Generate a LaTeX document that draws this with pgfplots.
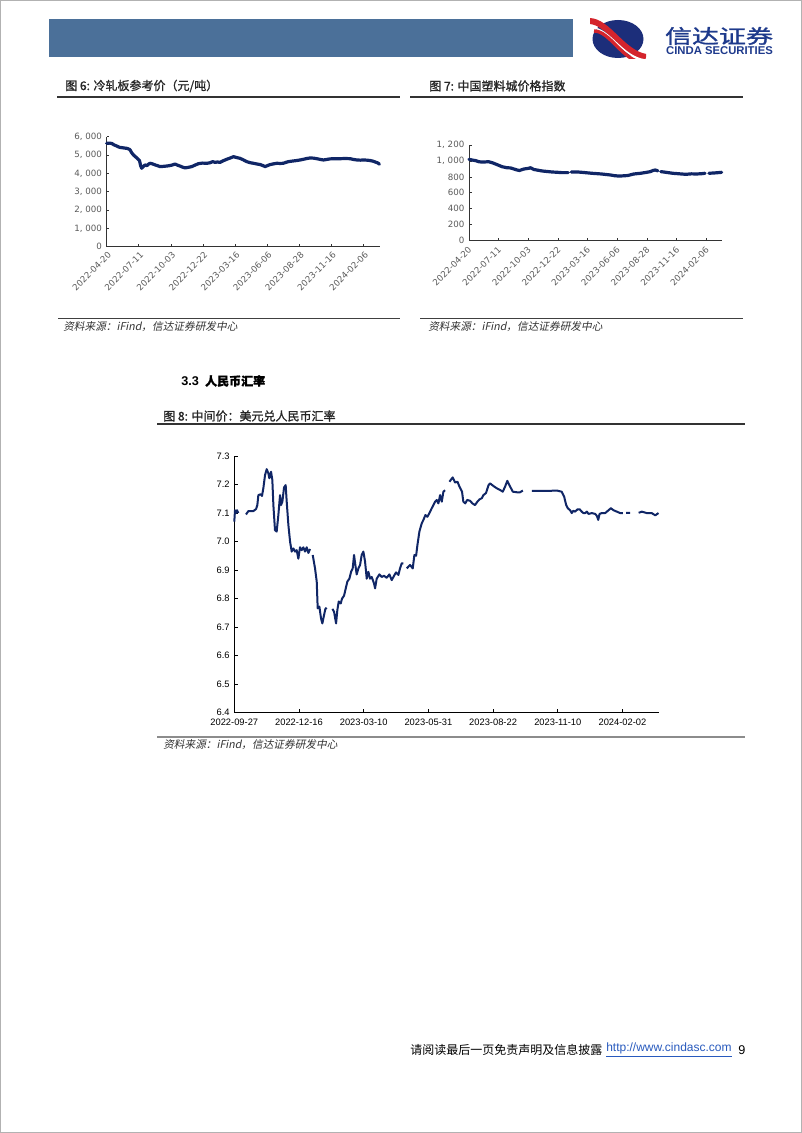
\documentclass[border=0pt]{standalone}
\usepackage{fontspec}
\setmainfont{Liberation Sans}
\newfontfamily\cjk{Noto Sans CJK SC}
\newfontfamily\cjkb{Noto Sans CJK SC}[FakeBold=1.2]
\newfontfamily\cjkit{Noto Sans CJK SC}[FakeSlant=0.2]
\newfontfamily\dejavu{DejaVu Sans}
\usepackage{graphicx}
\usepackage{pgfplots}
\pgfplotsset{compat=1.18}
\usepackage{pgfplotstable}

\definecolor{navy}{RGB}{16,38,102}
\definecolor{hdrblue}{RGB}{75,112,153}
\definecolor{logonavy}{RGB}{28,46,122}
\definecolor{logotext}{RGB}{30,58,140}
\definecolor{logored}{RGB}{212,36,44}
\definecolor{tickgray}{RGB}{90,90,90}
\definecolor{urlblue}{RGB}{40,90,190}

% Fig 6: cold-rolled sheet price (x in tick units, 1 unit = one labelled interval)
\pgfplotstableread{
x y
0.00 5640
0.08 5650
0.16 5630
0.22 5560
0.30 5500
0.40 5420
0.48 5400
0.56 5380
0.64 5360
0.72 5300
0.78 5120
0.84 4990
0.90 4900
0.96 4800
1.02 4700
1.06 4400
1.09 4280
1.13 4350
1.19 4460
1.25 4420
1.30 4500
1.35 4550
1.42 4520
1.51 4460
1.58 4420
1.66 4370
1.75 4380
1.87 4400
1.95 4420
2.05 4460
2.13 4510
2.20 4450
2.28 4400
2.36 4340
2.44 4300
2.55 4330
2.65 4370
2.75 4450
2.86 4530
2.98 4560
3.12 4550
3.22 4580
3.30 4640
3.37 4600
3.45 4620
3.53 4600
3.62 4680
3.74 4770
3.85 4840
3.95 4910
4.05 4860
4.15 4820
4.25 4740
4.36 4640
4.47 4580
4.57 4550
4.68 4510
4.78 4480
4.87 4420
4.93 4370
5.00 4420
5.09 4480
5.20 4520
5.30 4550
5.40 4540
5.50 4550
5.58 4600
5.66 4640
5.78 4670
5.92 4700
6.02 4730
6.13 4770
6.23 4810
6.33 4840
6.44 4830
6.54 4800
6.65 4760
6.75 4730
6.85 4760
6.96 4790
7.10 4800
7.27 4800
7.42 4810
7.58 4800
7.68 4760
7.79 4730
7.90 4720
8.00 4730
8.10 4720
8.20 4700
8.30 4660
8.36 4620
8.44 4570
8.49 4500
}\dataA

% Fig 7: China plastics city price index
\pgfplotstableread{
x y
0.00 1020
0.12 1010
0.22 1004
0.33 990
0.45 985
0.66 990
0.80 975
0.89 962
1.00 945
1.11 928
1.27 915
1.40 912
1.62 886
1.70 880
1.84 898
2.02 908
2.07 915
2.18 893
2.46 874
2.80 861
2.95 858
3.13 853
3.34 853
3.39 nan
3.44 861
3.70 860
3.80 857
4.14 845
4.47 836
4.76 824
4.90 815
5.02 811
5.15 812
5.35 817
5.55 836
5.78 845
5.95 855
6.10 865
6.20 880
6.27 886
6.36 876
6.41 nan
6.46 866
6.62 858
6.86 845
7.10 838
7.30 832
7.50 838
7.66 836
7.84 840
7.95 845
8.01 nan
8.08 845
8.30 850
8.51 857
}\dataB

% Fig 8: USD/CNY central parity
\pgfplotstableread{
x y
0.000 7.07
0.011 7.11
0.026 7.10
0.042 7.11
0.062 7.10
0.120 nan
0.181 7.095
0.217 7.107
0.294 7.107
0.336 7.114
0.356 7.128
0.372 7.163
0.408 7.166
0.428 7.160
0.449 7.187
0.475 7.233
0.501 7.254
0.526 7.240
0.542 7.222
0.568 7.245
0.588 7.216
0.604 7.128
0.629 7.040
0.655 7.035
0.681 7.093
0.707 7.163
0.722 7.128
0.743 7.140
0.769 7.190
0.794 7.198
0.810 7.140
0.836 7.058
0.862 7.000
0.887 6.965
0.913 6.976
0.939 6.965
0.964 6.970
0.990 6.940
1.016 6.980
1.042 6.970
1.067 6.980
1.093 6.965
1.119 6.980
1.145 6.960
1.171 6.974
1.190 nan
1.212 6.953
1.248 6.906
1.274 6.860
1.289 6.766
1.315 6.772
1.341 6.730
1.361 6.713
1.387 6.742
1.408 6.764
1.428 6.768
1.470 nan
1.516 6.764
1.542 6.754
1.573 6.713
1.593 6.760
1.614 6.790
1.645 6.783
1.665 6.800
1.696 6.810
1.727 6.840
1.748 6.860
1.779 6.870
1.805 6.894
1.830 6.906
1.851 6.953
1.871 6.918
1.892 6.885
1.918 6.906
1.944 6.918
1.969 6.953
1.995 6.965
2.021 6.930
2.047 6.870
2.073 6.894
2.098 6.870
2.124 6.876
2.160 6.853
2.176 6.836
2.201 6.870
2.243 6.885
2.279 6.876
2.315 6.880
2.356 6.873
2.397 6.885
2.433 6.865
2.469 6.880
2.500 6.892
2.536 6.883
2.562 6.906
2.588 6.924
2.614 6.924
2.640 nan
2.665 6.906
2.717 6.918
2.758 6.906
2.784 6.953
2.810 6.950
2.830 6.987
2.861 7.035
2.897 7.064
2.923 7.076
2.954 7.093
2.985 7.087
3.016 7.100
3.052 7.117
3.078 7.128
3.104 7.140
3.129 7.146
3.155 7.134
3.181 7.163
3.207 7.140
3.232 7.175
3.258 7.180
3.290 nan
3.325 7.210
3.376 7.225
3.413 7.207
3.450 7.210
3.480 7.193
3.520 7.175
3.540 7.140
3.570 7.134
3.600 7.146
3.645 7.143
3.680 7.134
3.720 7.128
3.758 7.140
3.790 7.148
3.825 7.152
3.850 7.163
3.890 7.170
3.930 7.198
3.954 7.204
4.005 7.195
4.057 7.187
4.108 7.181
4.150 7.175
4.186 7.193
4.220 7.213
4.263 7.193
4.305 7.175
4.366 7.173
4.418 7.173
4.460 7.179
4.530 nan
4.598 7.178
4.727 7.178
4.880 7.178
4.985 7.179
5.060 7.175
5.098 7.158
5.130 7.128
5.155 7.117
5.190 7.110
5.216 7.100
5.240 7.108
5.268 7.105
5.305 7.113
5.340 7.113
5.370 7.105
5.397 7.100
5.423 7.100
5.450 7.105
5.475 7.097
5.527 7.100
5.580 7.097
5.604 7.090
5.625 7.076
5.646 7.097
5.680 7.100
5.733 7.100
5.785 7.110
5.820 7.117
5.861 7.110
5.913 7.105
5.965 7.100
6.006 7.100
6.030 nan
6.057 7.101
6.120 7.101
6.180 nan
6.250 7.101
6.300 7.105
6.376 7.100
6.453 7.100
6.506 7.092
6.557 7.100
}\dataC

\newcommand{\fs}[1]{\fontsize{#1}{#1}\selectfont}

\begin{document}
\begin{tikzpicture}[x=0.75pt,y=0.75pt]
\path[use as bounding box] (0,0) rectangle (802,1133);
\fill[white] (0,0) rectangle (802,1133);
\draw[gray!60, line width=0.9pt] (0.6,0.6) rectangle (801.4,1132.4);

% ---------- header ----------
\fill[hdrblue] (49,1076) rectangle (573,1114);
\fill[logonavy] (618,1094) ellipse [x radius=25.5, y radius=19];
\begin{scope}
\clip (590,1114) rectangle (646,1074);
\draw[logored, line width=4.5pt] (589,1112) .. controls (608,1112) and (622,1080) .. (646,1076);
\draw[white, line width=1.2pt] (592,1105) .. controls (609,1105) and (622,1076) .. (645,1073);
\draw[logored, line width=2.5pt] (594,1102) .. controls (610,1102) and (622,1073) .. (643,1070);
\end{scope}
\node[anchor=center, text=logotext, inner sep=0] at (719,1097)
  {\resizebox*{81pt}{13.5pt}{\cjkb 信达证券}};
\node[anchor=center, text=logotext, inner sep=0] at (719.5,1082)
  {\resizebox*{80pt}{6pt}{\bfseries CINDA SECURITIES}};

% ---------- figure titles ----------
\node[anchor=west, inner sep=0, text=black!85] at (65,1047) {\cjkb\fs{9}图 6: 冷轧板参考价（元/吨）};
\node[anchor=west, inner sep=0, text=black!85] at (429,1047) {\cjkb\fs{9}图 7: 中国塑料城价格指数};
\draw[black!80, line width=1.5pt] (57,1036) -- (400,1036);
\draw[black!80, line width=1.5pt] (410,1036) -- (743,1036);

\draw[black!75, line width=0.8pt] (58,814.5) -- (400,814.5);
\draw[black!75, line width=0.8pt] (420,814.5) -- (743,814.5);
\node[anchor=west, inner sep=0, text=black!80] at (63,806) {\cjkit\fs{8}资料来源：iFind，信达证券研发中心};
\node[anchor=west, inner sep=0, text=black!80] at (428,806) {\cjkit\fs{8}资料来源：iFind，信达证券研发中心};

\node[anchor=west, inner sep=0] at (181,752) {\fs{9.5}\bfseries 3.3 {\cjkb\fs{9} 人民币汇率}};
\node[anchor=west, inner sep=0, text=black!85] at (163,717) {\cjkb\fs{9}图 8: 中间价：美元兑人民币汇率};
\draw[black!80, line width=1.5pt] (157,709) -- (745,709);
\draw[black!45, line width=1.2pt] (157,396) -- (745,396);
\node[anchor=west, inner sep=0, text=black!80] at (163,388) {\cjkit\fs{8}资料来源：iFind，信达证券研发中心};

% ---------- footer ----------
\node[anchor=west, inner sep=0] at (410,83) {\cjk\fs{9}请阅读最后一页免责声明及信息披露};
\node[anchor=west, inner sep=0, text=urlblue] at (606,83) {\fs{9}\underline{http://www.cindasc.com}};
\node[anchor=west, inner sep=0] at (738,83) {\fs{9.5}9};

% ---------- chart 6 ----------
\coordinate (o6) at (106.7,886.3);
\begin{axis}[at={(o6)}, anchor=south west, scale only axis,
  width=205pt, height=82.5pt,
  xmin=0, xmax=8.51, ymin=0, ymax=6000,
  axis lines*=left, axis line style={-, black!80, line width=0.6pt},
  tick align=inside, major tick length=2pt, tick style={black!80, line width=0.5pt},
  xtick={0,1,2,3,4,5,6,7,8},
  xticklabels={2022-04-20,2022-07-11,2022-10-03,2022-12-22,2023-03-16,2023-06-06,2023-08-28,2023-11-16,2024-02-06},
  xticklabel style={xshift=3pt, yshift=-4pt, rotate=45, anchor=east, font=\dejavu\fs{6.5}, text=tickgray, inner sep=1pt},
  ytick={0,1000,2000,3000,4000,5000,6000},
  yticklabels={0,{1, 000},{2, 000},{3, 000},{4, 000},{5, 000},{6, 000}},
  yticklabel style={font=\dejavu\fs{6.5}, text=tickgray},
  clip=false]
\addplot[navy, line width=2.4pt, line join=round, line cap=round] table[x=x,y=y] {\dataA};
\end{axis}

% ---------- chart 7 ----------
\coordinate (o7) at (469,892.3);
\begin{axis}[at={(o7)}, anchor=south west, scale only axis,
  width=189.5pt, height=71.8pt,
  xmin=0, xmax=8.51, ymin=0, ymax=1200,
  axis lines*=left, axis line style={-, black!80, line width=0.6pt},
  tick align=inside, major tick length=2pt, tick style={black!80, line width=0.5pt},
  xtick={0,1,2,3,4,5,6,7,8},
  xticklabels={2022-04-20,2022-07-11,2022-10-03,2022-12-22,2023-03-16,2023-06-06,2023-08-28,2023-11-16,2024-02-06},
  xticklabel style={xshift=1.5pt, yshift=-5pt, rotate=45, anchor=east, font=\dejavu\fs{6.5}, text=tickgray, inner sep=1pt},
  ytick={0,200,400,600,800,1000,1200},
  yticklabels={0,200,400,600,800,{1, 000},{1, 200}},
  yticklabel style={font=\dejavu\fs{6.5}, text=tickgray},
  unbounded coords=jump, clip=false]
\addplot[navy, line width=2.4pt, line join=round, line cap=round] table[x=x,y=y] {\dataB};
\end{axis}

% ---------- chart 8 ----------
\coordinate (o8) at (234.3,420.3);
\begin{axis}[at={(o8)}, anchor=south west, scale only axis,
  width=318.3pt, height=192.5pt,
  xmin=0, xmax=6.56, ymin=6.4, ymax=7.3,
  axis lines*=left, axis line style={-, black, line width=0.7pt},
  tick align=inside, major tick length=2.5pt, tick style={black, line width=0.6pt},
  xtick={0,1,2,3,4,5,6},
  xticklabels={2022-09-27,2022-12-16,2023-03-10,2023-05-31,2023-08-22,2023-11-10,2024-02-02},
  xticklabel style={font=\fs{7}, inner sep=1pt, yshift=-3.5pt},
  ytick={6.4,6.5,6.6,6.7,6.8,6.9,7.0,7.1,7.2,7.3},
  yticklabels={6.4,6.5,6.6,6.7,6.8,6.9,7.0,7.1,7.2,7.3},
  yticklabel style={font=\fs{7}},
  unbounded coords=jump, clip=false]
\addplot[navy, line width=1.5pt, line join=round] table[x=x,y=y] {\dataC};
\end{axis}
\end{tikzpicture}
\end{document}
